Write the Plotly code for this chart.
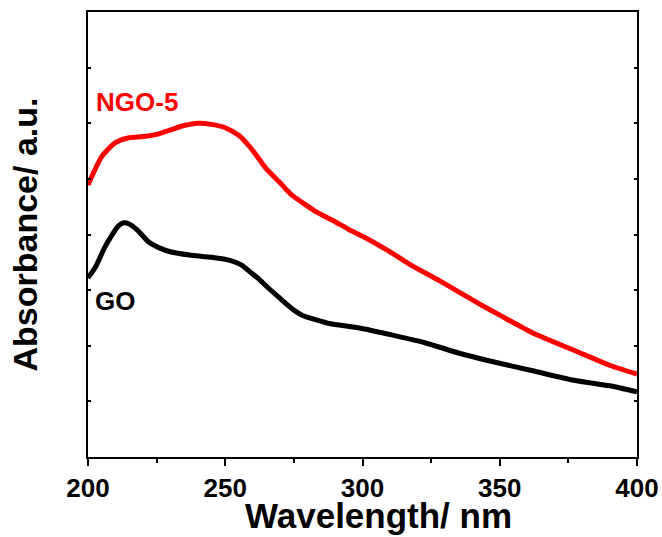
import plotly.graph_objects as go

# NGO-5 spectrum (wavelength nm, absorbance a.u.)
ngo_wl = [200, 205, 210, 215, 220, 225, 230, 235, 240, 245, 250, 255, 258, 260, 263, 265,
          270, 272, 275, 280, 283, 290, 295, 300, 309, 318, 328, 335, 343, 350, 362, 377, 390, 400]
ngo_abs = [4.89, 5.40, 5.65, 5.74, 5.76, 5.80, 5.88, 5.96, 6.00, 5.98, 5.92, 5.78, 5.63, 5.51,
           5.31, 5.18, 4.93, 4.82, 4.68, 4.51, 4.41, 4.23, 4.09, 3.97, 3.72, 3.44, 3.17, 2.97,
           2.74, 2.55, 2.23, 1.92, 1.65, 1.49]

# GO spectrum
go_wl = [200, 203, 206, 209, 211, 213, 215, 218, 222, 226, 230, 237, 245, 252, 256, 258, 262,
         265, 270, 275, 278, 287, 299, 311, 323, 335, 346, 362, 377, 390, 400]
go_abs = [3.22, 3.44, 3.76, 4.01, 4.15, 4.21, 4.19, 4.08, 3.87, 3.76, 3.69, 3.63, 3.59, 3.53,
          3.45, 3.37, 3.21, 3.07, 2.85, 2.64, 2.55, 2.41, 2.32, 2.19, 2.05, 1.87, 1.73, 1.55,
          1.38, 1.28, 1.17]

x_ticks = [200, 250, 300, 350, 400]

FONT = "Arial, 'Liberation Sans', sans-serif"

fig = go.Figure()
fig.add_trace(go.Scatter(x=ngo_wl, y=ngo_abs, mode="lines",
                         line=dict(color="#ff0000", width=5, smoothing=0.6, shape="spline"),
                         name="NGO-5"))
fig.add_trace(go.Scatter(x=go_wl, y=go_abs, mode="lines",
                         line=dict(color="#000000", width=5, smoothing=0.6, shape="spline"),
                         name="GO"))

fig.add_annotation(x=202.2, y=6.38, text="<b>NGO-5</b>", showarrow=False, xanchor="left",
                   yanchor="middle", font=dict(family=FONT, size=26, color="#ff0000"))
fig.add_annotation(x=201.8, y=2.81, text="<b>GO</b>", showarrow=False, xanchor="left",
                   yanchor="middle", font=dict(family=FONT, size=26, color="#000000"))
# x-axis title
fig.add_annotation(xref="paper", yref="paper", x=0.53, y=0, yshift=-37, text="<b>Wavelength/ nm</b>",
                   showarrow=False, xanchor="center", yanchor="top",
                   font=dict(family=FONT, size=35, color="black"))

fig.update_layout(
    width=662, height=537,
    margin=dict(l=88, r=25, t=12, b=80),
    plot_bgcolor="white", paper_bgcolor="white",
    showlegend=False,
    font=dict(family=FONT, color="black"),
)
fig.update_xaxes(
    automargin=False,
    range=[200, 400], tickvals=x_ticks, ticktext=[f"<b>{v}</b>" for v in x_ticks],
    ticks="outside", ticklen=7, tickwidth=2, tickcolor="black",
    minor=dict(dtick=25, tick0=200, ticks="outside", ticklen=4, tickwidth=1.5, tickcolor="black"),
    showline=True, linewidth=2, linecolor="black", mirror=True,
    showgrid=False, zeroline=False,
    tickfont=dict(family=FONT, size=26, color="black"),
)
fig.update_yaxes(
    automargin=False,
    range=[0, 8], dtick=1, tick0=0, showticklabels=False,
    ticks="inside", ticklen=3, tickwidth=1.5, tickcolor="black",
    showline=True, linewidth=2, linecolor="black", mirror="ticks",
    showgrid=False, zeroline=False,
    title=dict(text="<b>Absorbance/ a.u.</b>", font=dict(family=FONT, size=34, color="black"), standoff=38),
)

fig.write_html("out.html")
